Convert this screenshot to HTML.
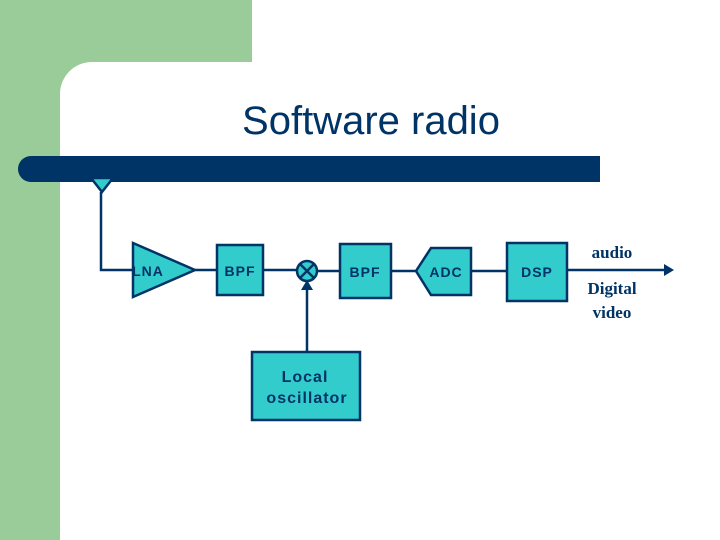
<!DOCTYPE html>
<html><head><style>
body{margin:0;width:720px;height:540px;overflow:hidden;background:#9c9;position:relative}
.w{position:absolute;left:60px;top:62px;width:660px;height:478px;background:#fff;border-top-left-radius:32px}
.g{position:absolute;left:252px;top:0;width:468px;height:62px;background:#fff}
</style></head><body>
<div class="g"></div><div class="w"></div>
<svg width="720" height="540" style="position:absolute;left:0;top:0" font-family="Liberation Sans, sans-serif">
<text x="371" y="134" text-anchor="middle" font-size="40" fill="#003366">Software radio</text>
<path d="M31,156 H600 V182 H31 A13,13 0 0 1 31,156 Z" fill="#003366"/>
<g stroke="#003366" stroke-width="2.5" fill="#33cccc">
<polyline points="101,192 101,270 133,270" fill="none"/>
<line x1="195" y1="270" x2="217" y2="270"/>
<line x1="263" y1="270" x2="297" y2="270"/>
<line x1="317" y1="271" x2="340" y2="271"/>
<line x1="391" y1="271" x2="416" y2="271"/>
<line x1="471" y1="271" x2="507" y2="271"/>
<line x1="567" y1="270" x2="664" y2="270"/>
<line x1="307" y1="352" x2="307" y2="290"/>
<polygon points="91,178 113,178 102,192"/>
<polygon points="133,243 195,270 133,297"/>
<rect x="217" y="245" width="46" height="50"/>
<circle cx="307" cy="271" r="10"/>
<line x1="300" y1="264" x2="314" y2="278"/><line x1="314" y1="264" x2="300" y2="278"/>
<rect x="340" y="244" width="51" height="54"/>
<polygon points="416,271 431,248 471,248 471,295 431,295"/>
<rect x="507" y="243" width="60" height="58"/>
<rect x="252" y="352" width="108" height="68"/>
</g>
<polygon points="664,264 674,270 664,276" fill="#003366"/>
<polygon points="301,290 307,280 313,290" fill="#003366"/>
<g fill="#003366" font-size="14" font-weight="bold" letter-spacing="1" text-anchor="middle">
<text x="148" y="276">LNA</text>
<text x="240" y="276">BPF</text>
<text x="365" y="277">BPF</text>
<text x="446" y="277">ADC</text>
<text x="537" y="277">DSP</text>
</g>
<g fill="#003366" font-size="16" font-weight="bold" letter-spacing="1" text-anchor="middle">
<text x="305" y="382">Local</text>
<text x="307" y="403">oscillator</text>
</g>
<g fill="#003366" font-size="17" font-weight="bold" font-family="Liberation Serif, serif" text-anchor="middle">
<text x="612" y="258">audio</text>
<text x="612" y="294">Digital</text>
<text x="612" y="318">video</text>
</g>
</svg>
</body></html>
